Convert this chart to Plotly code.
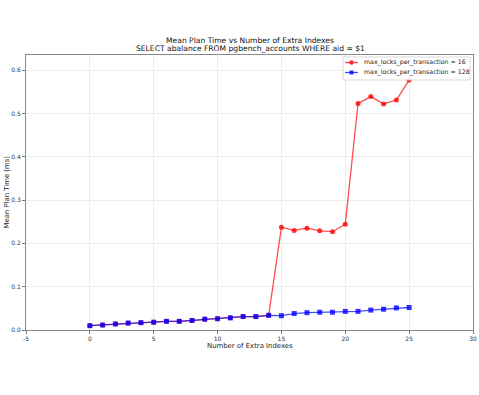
import plotly.graph_objects as go

x_idx = list(range(26))
red_vals = [0.010, 0.0115, 0.014, 0.016, 0.017, 0.018, 0.020, 0.020, 0.022, 0.025,
            0.026, 0.028, 0.031, 0.031, 0.034, 0.237, 0.230, 0.235, 0.229, 0.227,
            0.244, 0.523, 0.539, 0.522, 0.531, 0.577]
blue_vals = [0.010, 0.0115, 0.014, 0.016, 0.017, 0.018, 0.020, 0.020, 0.022, 0.025,
             0.026, 0.028, 0.031, 0.031, 0.034, 0.033, 0.038, 0.040, 0.041, 0.041,
             0.043, 0.043, 0.046, 0.048, 0.051, 0.052]
red_name = "max_locks_per_transaction = 16"
blue_name = "max_locks_per_transaction = 128"
x_ticks = [-5, 0, 5, 10, 15, 20, 25, 30]
y_ticks = [0.0, 0.1, 0.2, 0.3, 0.4, 0.5, 0.6]
title_lines = ["Mean Plan Time vs Number of Extra Indexes",
               "SELECT abalance FROM pgbench_accounts WHERE aid = $1"]
x_title = "Number of Extra Indexes"
y_title = "Mean Plan Time (ms)"

W, H = 479, 395
L, R, T, B = 26, 6, 55, 65
font = "DejaVu Sans"
RED_LINE = "rgba(255,0,0,0.7)"
BLUE_LINE = "rgba(0,0,255,0.7)"
RED_MK = "rgba(255,0,0,0.8)"
BLUE_MK = "rgba(0,0,255,0.8)"

fig = go.Figure()
fig.add_trace(go.Scatter(x=x_idx, y=red_vals, name=red_name, mode="lines+markers",
                         line=dict(color=RED_LINE, width=1.3),
                         marker=dict(symbol="circle", size=5, color=RED_MK)))
fig.add_trace(go.Scatter(x=x_idx, y=blue_vals, name=blue_name, mode="lines+markers",
                         line=dict(color=BLUE_LINE, width=1.3),
                         marker=dict(symbol="square", size=5, color=BLUE_MK)))

axis_common = dict(showline=True, linecolor="#888888", linewidth=1, mirror=True,
                   showgrid=True, gridcolor="#ececec", gridwidth=1, zeroline=False,
                   ticks="outside", ticklen=3, tickcolor="#777777", automargin=False,
                   tickfont=dict(size=6, color="#333333", family=font))
fig.update_xaxes(range=[-5, 30], tickvals=x_ticks, ticktext=[str(v) for v in x_ticks], **axis_common)
fig.update_yaxes(range=[0, 0.635], tickvals=y_ticks, ticktext=[f"{v:.1f}" for v in y_ticks], **axis_common)

pw = W - L - R
ph = H - T - B
def px_x(p):
    return (p - L) / pw
def px_y(p):
    return 1 - (p - T) / ph

annotations = []
for txt, yc in zip(title_lines, [40.5, 48.8]):
    annotations.append(dict(text=txt, x=px_x(250), y=px_y(yc), xref="paper", yref="paper",
                            xanchor="center", yanchor="middle", showarrow=False,
                            font=dict(size=7.6, color="#111111", family=font)))
annotations.append(dict(text=x_title, x=px_x(250), y=px_y(345.5), xref="paper", yref="paper",
                        xanchor="center", yanchor="middle", showarrow=False,
                        font=dict(size=6.9, color="#222222", family=font)))
annotations.append(dict(text=y_title, x=px_x(6.5), y=px_y(192), xref="paper", yref="paper",
                        xanchor="center", yanchor="middle", showarrow=False, textangle=-90,
                        font=dict(size=6.9, color="#222222", family=font)))

shapes = []
lx0, lx1, ly0, ly1 = 343, 470, 57, 80
shapes.append(dict(type="rect", xref="paper", yref="paper", x0=px_x(lx0), x1=px_x(lx1),
                   y0=px_y(ly1), y1=px_y(ly0), line=dict(color="#d0d0d0", width=0.8),
                   fillcolor="rgba(255,255,255,0.85)", layer="above"))
entries = [(red_name, RED_LINE, RED_MK, "circle", 62.5), (blue_name, BLUE_LINE, BLUE_MK, "square", 72.5)]
for name, lc, mc, sym, yc in entries:
    shapes.append(dict(type="line", xref="paper", yref="paper", x0=px_x(345), x1=px_x(358),
                       y0=px_y(yc), y1=px_y(yc), line=dict(color=lc, width=1.3), layer="above"))
    if sym == "circle":
        shapes.append(dict(type="circle", xref="paper", yref="paper", x0=px_x(349.3), x1=px_x(353.7),
                           y0=px_y(yc + 2.2), y1=px_y(yc - 2.2), fillcolor=mc, line=dict(width=0), layer="above"))
    else:
        shapes.append(dict(type="rect", xref="paper", yref="paper", x0=px_x(349.5), x1=px_x(353.5),
                           y0=px_y(yc + 2), y1=px_y(yc - 2), fillcolor=mc, line=dict(width=0), layer="above"))
    annotations.append(dict(text=name, x=px_x(362), y=px_y(yc), xref="paper", yref="paper",
                            xanchor="left", yanchor="middle", showarrow=False,
                            font=dict(size=6.25, color="#222222", family=font)))

fig.update_layout(
    width=W, height=H,
    margin=dict(l=L, r=R, t=T, b=B),
    paper_bgcolor="white", plot_bgcolor="white",
    showlegend=False,
    annotations=annotations,
    shapes=shapes,
)
fig.write_html("out.html", config={"displayModeBar": False},
               post_script="document.body.style.margin='0';document.body.style.overflow='hidden';")
